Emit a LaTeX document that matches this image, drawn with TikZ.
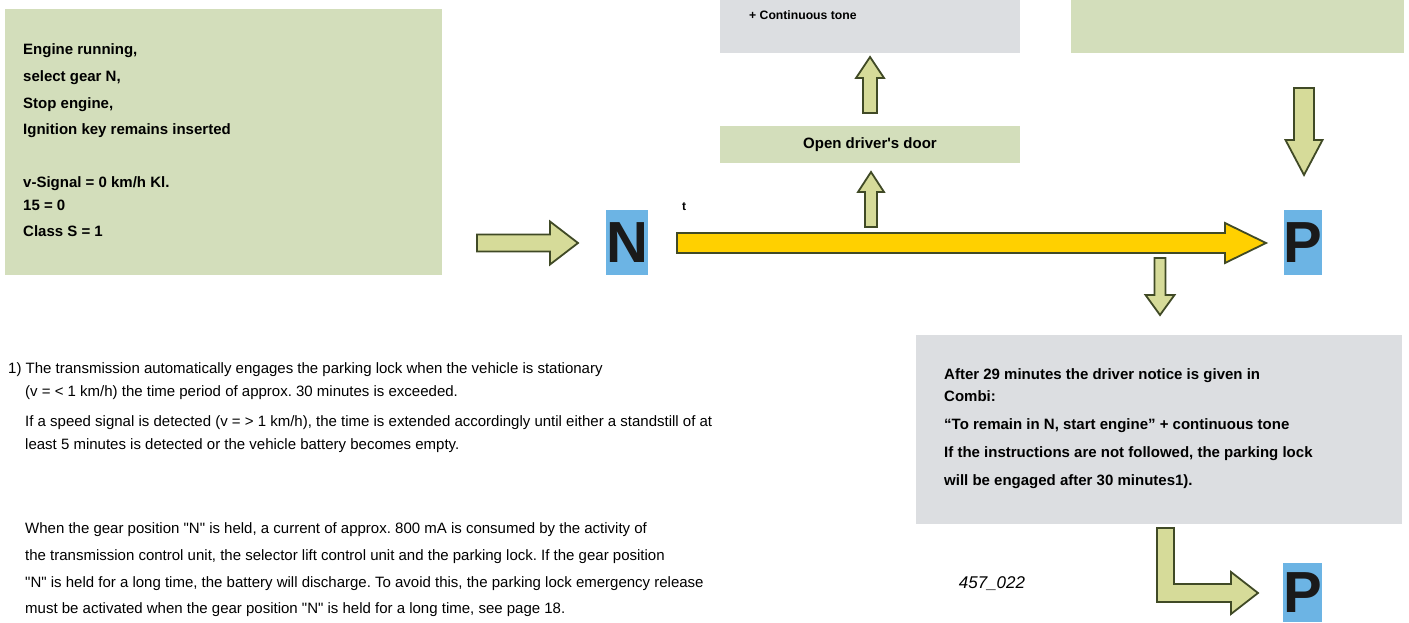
\documentclass[tikz,border=0pt]{standalone}
\usepackage{fontspec}
\setmainfont{Liberation Sans}
\usetikzlibrary{positioning}
\definecolor{BoxGreen}{RGB}{211,222,187}
\definecolor{BoxGrey}{RGB}{220,222,225}
\definecolor{GearBlue}{RGB}{108,180,228}
\definecolor{GearInk}{RGB}{26,26,26}
\definecolor{ArrowPale}{RGB}{214,219,153}
\definecolor{ArrowEdge}{RGB}{64,74,38}
\definecolor{ArrowYellow}{RGB}{255,208,0}
\frenchspacing
\newcommand{\qN}{\textquotedbl N\textquotedbl}
\tikzset{
  gb/greenbox/.style={
    fill=BoxGreen,
    draw=none,
    inner sep=0pt
  },
  gb/greybox/.style={
    fill=BoxGrey,
    draw=none,
    inner sep=0pt
  },
  gb/gear/.style={
    fill=GearBlue,
    text=GearInk,
    inner sep=0pt,
    minimum width=36pt,
    minimum height=65pt,
    font=\fontsize{58}{58}\selectfont\bfseries
  },
  gb/boxtext/.style={
    font=\fontsize{15}{26.7}\selectfont\bfseries,
    align=left,
    anchor=north west,
    inner sep=0pt
  },
  gb/notetext/.style={
    font=\fontsize{15}{23}\selectfont,
    align=left,
    anchor=north west,
    inner sep=0pt
  },
  gb/hollow/.style={fill=ArrowPale, draw=ArrowEdge, line width=1.8pt, line join=miter},
  gb/timeline/.style={fill=ArrowYellow, draw=ArrowEdge, line width=1.8pt, line join=miter}
}
% block arrow: style, tail, direction, length, shaft half width, head half width, head length
\newcommand{\blockarrow}[7]{%
  \begin{scope}[shift={#2}, rotate=#3]
    \draw[#1] (0,-#5) -- ({#4-#7},-#5) -- ({#4-#7},-#6) -- (#4,0)
      -- ({#4-#7},#6) -- ({#4-#7},#5) -- (0,#5) -- cycle;
  \end{scope}}

\begin{document}
\begin{tikzpicture}[x=1pt,y=-1pt]
  \useasboundingbox (0,0) rectangle (1409,623);
  % start condition
  \node[gb/greenbox,minimum width=437pt,minimum height=266pt,anchor=north west] (start) at (5,9) {};
  \node[gb/boxtext] (starttext) at (23,43.6) {Engine running,\\ select gear N,\\ Stop engine,\\ Ignition key remains inserted\\[26pt] v-Signal = 0 km/h Kl.\\[-4pt] 15 = 0\\ Class S = 1};
  \blockarrow{gb/hollow}{(477,243)}{0}{101}{8.5}{21.5}{28}
  % time line N -> P
  \node[gb/gear] (gearN) at (627,242.5) {N};
  \node[font=\fontsize{12}{12}\selectfont\bfseries,inner sep=0pt] (tmark) at (684,207) {t};
  \blockarrow{gb/timeline}{(677,243)}{0}{589}{10}{20}{41}
  \node[gb/gear] (gearP) at (1303,242.5) {P};
  % door branch
  \blockarrow{gb/hollow}{(871,227)}{90}{55}{6}{13}{20}
  \node[gb/greenbox,minimum width=300pt,minimum height=37pt,font=\fontsize{15}{15}\selectfont\bfseries] (door) at (870,144.5) {Open driver\textquotesingle s door};
  \blockarrow{gb/hollow}{(870,113)}{90}{56}{7}{14}{21}
  \node[gb/greybox,minimum width=300pt,minimum height=63pt,anchor=south west] (tonebox) at (720,53) {};
  \node[font=\fontsize{12.2}{12}\selectfont\bfseries,anchor=west,inner sep=0pt] (tonetext) at (749,15) {+ Continuous tone};
  \node[gb/greenbox,minimum width=333pt,minimum height=63pt,anchor=south west] (topright) at (1071,53) {};
  \blockarrow{gb/hollow}{(1304,88)}{-90}{87}{10}{18.5}{35}
  % driver notice
  \blockarrow{gb/hollow}{(1160,258)}{-90}{57}{5.5}{14.5}{20}
  \node[gb/greybox,minimum width=486pt,minimum height=189pt,anchor=north west] (notice) at (916,335) {};
  \node[gb/boxtext,font=\fontsize{15}{28}\selectfont\bfseries] (noticetext) at (944,368.6) {After 29 minutes the driver notice is given in\\[-6pt] Combi:\\ “To remain in N, start engine” + continuous tone\\ If the instructions are not followed, the parking lock\\ will be engaged after 30 minutes1).};
  \draw[gb/hollow] (1157,528) -- (1174,528) -- (1174,584) -- (1231,584) -- (1231,572) -- (1258,593)
    -- (1231,614) -- (1231,602) -- (1157,602) -- cycle;
  \node[gb/gear,minimum height=59pt] (gearPend) at (1302.5,592.5) {P};
  \node[font=\fontsize{17}{17}\selectfont\itshape,inner sep=0pt] (figno) at (992,584) {457\_022};
  % footnotes
  \node[gb/notetext] (note) at (8,362.6) {1) The transmission automatically engages the parking lock when the vehicle is stationary\\ \hspace*{17pt}(v = < 1 km/h) the time period of approx. 30 minutes is exceeded.\\[7pt] \hspace*{17pt}If a speed signal is detected (v = > 1 km/h), the time is extended accordingly until either a standstill of at\\ \hspace*{17pt}least 5 minutes is detected or the vehicle battery becomes empty.};
  \node[gb/notetext,font=\fontsize{15}{26.7}\selectfont] (current) at (25,522.6) {When the gear position \qN{} is held, a current of approx. 800 mA is consumed by the activity of\\ the transmission control unit, the selector lift control unit and the parking lock. If the gear position\\ \qN{} is held for a long time, the battery will discharge. To avoid this, the parking lock emergency release\\ must be activated when the gear position \qN{} is held for a long time, see page 18.};
\end{tikzpicture}
\end{document}
